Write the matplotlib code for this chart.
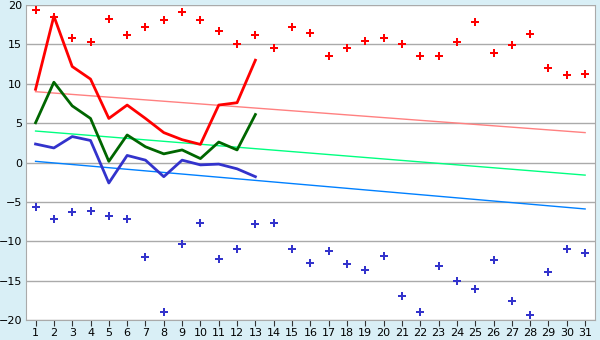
import matplotlib.pyplot as plt
import numpy as np

days = np.arange(1, 32)

# daily extremes (diamonds)
max_temp = [19.4, 18.5, 15.8, 15.3, 18.2, 16.2, 17.2, 18.1, 19.1, 18.1,
            16.7, 15.0, 16.2, 14.5, 17.2, 16.4, 13.5, 14.5, 15.5, 15.8,
            15.0, 13.5, 13.5, 15.3, 17.8, 13.9, 14.9, 16.3, 12.0, 11.1, 11.3]
min_temp = [-5.7, -7.2, -6.3, -6.2, -6.8, -7.2, -12.0, -19.0, -10.4, -7.7,
            -12.2, -11.0, -7.8, -7.7, -11.0, -12.8, -11.2, -12.9, -13.6, -11.9,
            -17.0, -19.0, -13.1, -15.0, -16.1, -12.4, -17.6, -19.4, -13.9, -11.0, -11.5]

# measured days
obs_days = np.arange(1, 14)
obs_max = [9.3, 18.6, 12.2, 10.6, 5.6, 7.3, 5.6, 3.8, 2.9, 2.3, 7.3, 7.6, 13.0]
obs_mean = [5.05, 10.2, 7.2, 5.6, 0.15, 3.5, 2.0, 1.1, 1.6, 0.5, 2.6, 1.6, 6.1]
obs_min = [2.35, 1.85, 3.3, 2.8, -2.6, 0.9, 0.3, -1.8, 0.3, -0.3, -0.2, -0.8, -1.8]

# normals (start, end of month)
norm_max = [9.0, 3.8]
norm_mean = [4.0, -1.6]
norm_min = [0.15, -5.9]

fig = plt.figure(figsize=(6, 3.4), dpi=100, facecolor='#d9eff6')
ax = fig.add_axes([0.044, 0.059, 0.948, 0.926])
ax.set_facecolor('white')

ax.plot([1, 31], norm_max, color='#ff8080', lw=1)
ax.plot([1, 31], norm_mean, color='#00ff80', lw=1)
ax.plot([1, 31], norm_min, color='#0080ff', lw=1)

ax.plot(obs_days, obs_max, color='#ff0000', lw=2)
ax.plot(obs_days, obs_mean, color='#006600', lw=2)
ax.plot(obs_days, obs_min, color='#3333cc', lw=2)

ax.plot(days, max_temp, ls='none', marker='P', ms=6, color='#ff0000', mew=0)
ax.plot(days, min_temp, ls='none', marker='P', ms=6, color='#3333cc', mew=0)

ax.set_xlim(0.5, 31.55)
ax.set_ylim(-20, 20)
ax.set_xticks(days)
ax.set_yticks(np.arange(-20, 21, 5))
ax.yaxis.grid(True, color='#aaaaaa', lw=1)
ax.set_axisbelow(True)
for s in ax.spines.values():
    s.set_color('#aaaaaa')
ax.spines['top'].set_visible(False)
ax.tick_params(axis='y', length=0, labelsize=8, pad=3)
ax.tick_params(axis='x', length=4, color='#333333', labelsize=8, pad=2)

fig.savefig('out.png', dpi=100, facecolor=fig.get_facecolor())
